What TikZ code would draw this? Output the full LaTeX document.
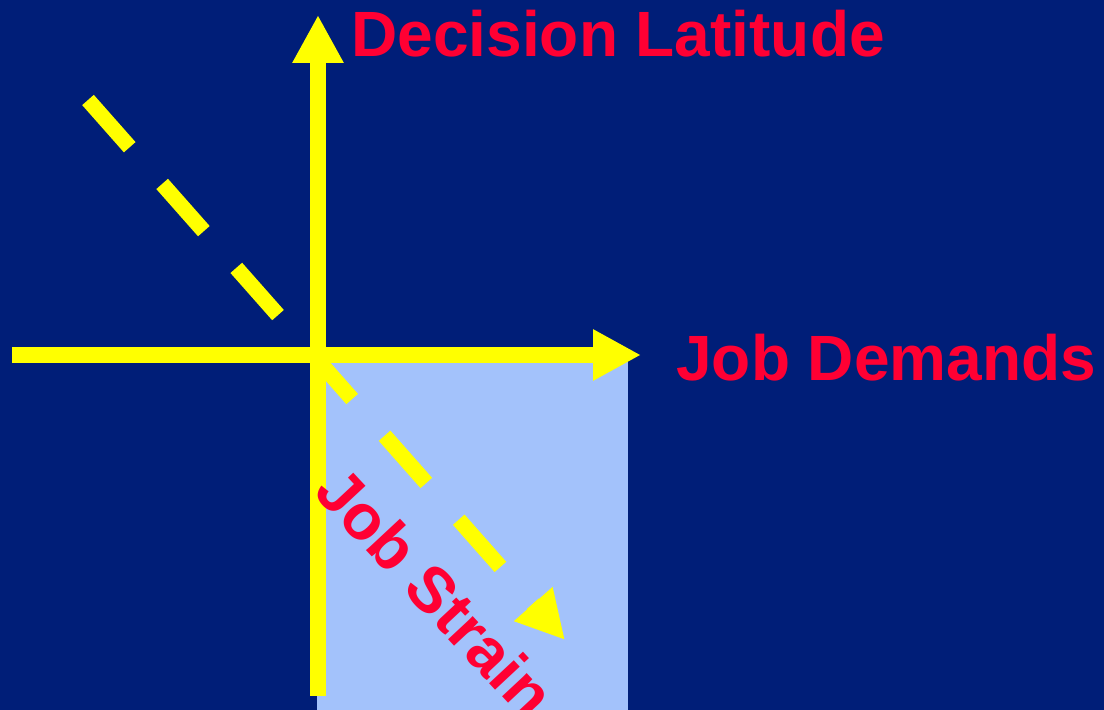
\documentclass[tikz,border=0pt]{standalone}
\usepackage{fontspec}
\setmainfont{Liberation Sans}
\usetikzlibrary{arrows.meta}
\definecolor{slidebg}{RGB}{0,30,120}
\definecolor{strainfill}{RGB}{163,194,251}
\definecolor{axisyellow}{RGB}{255,255,0}
\definecolor{labelred}{RGB}{255,0,51}
\tikzset{
  axis/.style={-{Triangle[length=24pt,width=24pt]},line width=7.75pt,axisyellow},
  strainaxis/.style={axis,dash pattern=on 31.5pt off 24.5pt},
  axislabel/.style={font=\fontsize{32}{38}\selectfont\bfseries,text=labelred,inner sep=0pt}
}

\begin{document}
\begin{tikzpicture}[x=0.5pt,y=-0.5pt]
  \fill[slidebg] (0,0) rectangle (1104,710);
  \useasboundingbox (0,0) rectangle (1104,710);
  \fill[strainfill] (317,355) rectangle (628,710);
  \coordinate (origin) at (318,355);
  \coordinate (ybottom) at (318,696);
  \coordinate (ytip) at (318,15);
  \coordinate (xleft) at (12,355);
  \coordinate (xtip) at (641,355);
  \coordinate (strainstart) at (88,100);
  \coordinate (straintip) at (565,640);
  \draw[strainaxis] (strainstart) -- (straintip);
  \draw[axis] (ybottom) -- (ytip);
  \draw[axis] (xleft) -- (xtip);
  \node[axislabel,anchor=base west] (latitude) at (351,57) {Decision Latitude};
  \node[axislabel,anchor=base west] (demands) at (676,381) {Job Demands};
  \node[axislabel,anchor=base west,rotate=-47] (strain) at (312,493) {Job Strain};
\end{tikzpicture}
\end{document}
